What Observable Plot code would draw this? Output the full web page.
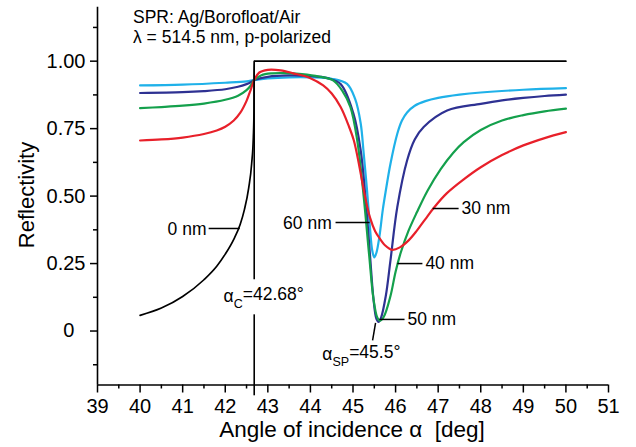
<!DOCTYPE html>
<html>
<head>
<meta charset="utf-8">
<script src="https://cdn.jsdelivr.net/npm/d3@7"></script>
<script src="https://cdn.jsdelivr.net/npm/@observablehq/plot@0.6"></script>
<style>
  html, body { margin: 0; padding: 0; background: #fff; }
  svg { display: block; }
</style>
</head>
<body>
<div id="chart"></div>
<script>
// ---- data ----
const header = ["SPR: Ag/Borofloat/Air", "λ = 514.5 nm, p-polarized"];
const xTitle = "Angle of incidence α  [deg]";
const yTitle = "Reflectivity";

const xTicks = [39, 40, 41, 42, 43, 44, 45, 46, 47, 48, 49, 50, 51];
const xMinor = [39.5, 40.5, 41.5, 42.5, 43.5, 44.5, 45.5, 46.5, 47.5, 48.5, 49.5, 50.5];
const yTicks = [0, 0.25, 0.5, 0.75, 1];
const yTickLabels = ["0\u2007", "0.25", "0.50", "0.75", "1.00"];
const yMinor = [-0.125, 0.125, 0.375, 0.625, 0.875, 1.125];

// 0 nm (bare prism)
const ang0  = [40, 40.5, 41, 41.5, 41.8, 42.0, 42.2, 42.35, 42.45, 42.55, 42.62, 42.66, 42.675, 42.68, 50];
const ref0  = [0.058, 0.085, 0.128, 0.19, 0.24, 0.285, 0.34, 0.395, 0.45, 0.53, 0.62, 0.72, 0.82, 1.0, 1.0];
// 30 nm
const ang30 = [40, 40.5, 41, 41.5, 41.8, 42, 42.2, 42.35, 42.5, 42.6, 42.68, 42.8, 43, 43.3, 43.6, 44, 44.3, 44.5, 44.71, 44.9, 45.02, 45.15, 45.28, 45.4, 45.52, 45.65, 45.75, 45.92, 46.1, 46.3, 46.5, 46.7, 46.9, 47.2, 47.6, 48, 48.5, 49, 49.5, 50];
const ref30 = [0.706, 0.71, 0.717, 0.73, 0.743, 0.757, 0.78, 0.808, 0.853, 0.895, 0.93, 0.958, 0.968, 0.966, 0.955, 0.937, 0.91, 0.88, 0.83, 0.76, 0.706, 0.61, 0.5, 0.42, 0.37, 0.338, 0.318, 0.301, 0.31, 0.335, 0.372, 0.415, 0.457, 0.51, 0.562, 0.607, 0.652, 0.688, 0.715, 0.737];
// 40 nm
const ang40 = [40, 40.5, 41, 41.5, 42, 42.3, 42.5, 42.6, 42.68, 42.85, 43.1, 43.4, 43.8, 44.2, 44.54, 44.75, 44.94, 45.1, 45.25, 45.38, 45.48, 45.57, 45.63, 45.72, 45.88, 46.0, 46.12, 46.3, 46.5, 46.75, 47.06, 47.35, 47.6, 48, 48.5, 49, 49.5, 50];
const ref40 = [0.826, 0.83, 0.835, 0.843, 0.857, 0.872, 0.893, 0.91, 0.93, 0.948, 0.955, 0.956, 0.952, 0.943, 0.928, 0.89, 0.83, 0.706, 0.5, 0.28, 0.12, 0.05, 0.038, 0.052, 0.13, 0.22, 0.29, 0.37, 0.44, 0.52, 0.6, 0.66, 0.7, 0.745, 0.78, 0.8, 0.814, 0.824];
// 50 nm
const ang50 = [40, 41, 41.5, 42, 42.3, 42.5, 42.6, 42.68, 43, 43.5, 44, 44.4, 44.71, 45.01, 45.18, 45.3, 45.4, 45.48, 45.55, 45.6, 45.66, 45.77, 45.88, 46.04, 46.27, 46.45, 46.66, 47.21, 48, 48.5, 49, 49.5, 50];
const ref50 = [0.882, 0.885, 0.889, 0.896, 0.905, 0.915, 0.922, 0.93, 0.942, 0.947, 0.945, 0.937, 0.915, 0.806, 0.67, 0.48, 0.28, 0.12, 0.045, 0.034, 0.05, 0.13, 0.262, 0.459, 0.632, 0.71, 0.756, 0.817, 0.842, 0.855, 0.864, 0.871, 0.876];
// 60 nm
const ang60 = [40, 41, 42, 42.5, 42.68, 43, 43.5, 44, 44.5, 44.86, 45.05, 45.18, 45.25, 45.33, 45.4, 45.45, 45.5, 45.55, 45.62, 45.7, 45.77, 45.88, 46.04, 46.15, 46.27, 46.45, 46.7, 47, 47.5, 48, 49, 50];
const ref60 = [0.91, 0.913, 0.92, 0.925, 0.93, 0.936, 0.94, 0.94, 0.935, 0.916, 0.86, 0.77, 0.66, 0.52, 0.38, 0.3, 0.273, 0.29, 0.35, 0.45, 0.52, 0.62, 0.731, 0.78, 0.81, 0.835, 0.852, 0.864, 0.876, 0.884, 0.894, 0.9];

// critical-angle marker (vertical line with a gap for its label)
const critAngle = 42.68;
const critY1 = [-0.24, 0.19];
const critY2 = [0.06, 1.0];

// annotation labels
const lblText   = ["0 nm", "60 nm", "30 nm", "40 nm", "50 nm", "α_{C}=42.68°", "α_{SP}=45.5°"];
const lblAngle  = [41.56, 44.5, 47.55, 46.7, 46.28, 41.96, 44.28];
const lblRefl   = [0.378, 0.40, 0.455, 0.25, 0.043, 0.128, -0.088];
const lblAnchor = ["end", "end", "start", "start", "start", "start", "start"];
// leader lines
const ldrX1 = [41.61, 44.59, 46.87, 46.04, 45.62, 45.53];
const ldrX2 = [42.34, 45.39, 47.48, 46.63, 46.21, 45.46];
const ldrY1 = [0.38, 0.402, 0.454, 0.25, 0.043, 0.03];
const ldrY2 = [0.38, 0.402, 0.454, 0.25, 0.043, -0.035];

const colors = {c0: "#000000", c30: "#e8202a", c40: "#14a04c", c50: "#2e3192", c60: "#1fb1e9"};

// ---- build tables ----
const toRows = (a, r) => a.map((x, i) => ({x, y: r[i]}));
const labels = lblText.map((t, i) => ({t, x: lblAngle[i], y: lblRefl[i], a: lblAnchor[i]}));
const leaders = ldrX1.map((x1, i) => ({x1, x2: ldrX2[i], y1: ldrY1[i], y2: ldrY2[i]}));
const crit = critY1.map((y1, i) => ({x: critAngle, y1, y2: critY2[i]}));

const lineOpts = {x: "x", y: "y", curve: "catmull-rom", strokeWidth: 2.2, strokeLinejoin: "round", strokeLinecap: "round"};
const FONT = "'Liberation Sans', Arial, Helvetica, sans-serif";

const plot = Plot.plot({
  width: 636,
  height: 447,
  marginLeft: 97,
  marginRight: 28,
  marginTop: 6.7,
  marginBottom: 62.5,
  style: {fontFamily: FONT, fontSize: "20px", background: "#fff", color: "#000"},
  x: {domain: [39, 51], axis: null},
  y: {domain: [-0.2, 1.2], axis: null},
  marks: [
    Plot.axisX({ticks: xTicks, tickSize: 8, tickPadding: 6, tickFormat: d => String(d), strokeWidth: 1.5, fontSize: 20, label: null}),
    Plot.axisX({ticks: xMinor, tickSize: 4, tickFormat: () => "", strokeWidth: 1.5, label: null}),
    Plot.axisY({ticks: yTicks, tickSize: 7, tickPadding: 5, tickFormat: d => yTickLabels[yTicks.indexOf(d)], strokeWidth: 1.5, fontSize: 20, label: null}),
    Plot.axisY({ticks: yMinor, tickSize: 4, tickFormat: () => "", strokeWidth: 1.5, label: null}),
    Plot.ruleY([-0.2], {strokeWidth: 1.6}),
    Plot.ruleX([39], {strokeWidth: 1.6}),
    Plot.ruleX(crit, {x: "x", y1: "y1", y2: "y2", strokeWidth: 1.6, stroke: "#000"}),
    Plot.line(toRows(ang60, ref60), {...lineOpts, stroke: colors.c60}),
    Plot.line(toRows(ang50, ref50), {...lineOpts, stroke: colors.c50}),
    Plot.line(toRows(ang40, ref40), {...lineOpts, stroke: colors.c40}),
    Plot.line(toRows(ang30, ref30), {...lineOpts, stroke: colors.c30}),
    Plot.line(toRows(ang0, ref0), {...lineOpts, curve: "monotone-x", stroke: colors.c0, strokeWidth: 1.7}),
    Plot.link(leaders, {x1: "x1", x2: "x2", y1: "y1", y2: "y2", stroke: "#000", strokeWidth: 1.5}),
    Plot.text(labels.filter(d => d.a === "end"), {x: "x", y: "y", text: "t", textAnchor: "end", fontSize: 17.5, fill: "#000"}),
    Plot.text(labels.filter(d => d.a === "start"), {x: "x", y: "y", text: "t", textAnchor: "start", fontSize: 17.5, fill: "#000"})
  ]
});

// subscripts written as _{...}
const NS = "http://www.w3.org/2000/svg";
plot.querySelectorAll("text").forEach(t => {
  const s = t.textContent;
  const m = s.match(/^(.*)_\{(.*?)\}(.*)$/);
  if (!m) return;
  t.textContent = "";
  const a = document.createElementNS(NS, "tspan"); a.textContent = m[1]; t.appendChild(a);
  const b = document.createElementNS(NS, "tspan"); b.textContent = m[2];
  b.setAttribute("font-size", "12.5"); b.setAttribute("dy", "0.45em"); t.appendChild(b);
  const c = document.createElementNS(NS, "tspan"); c.textContent = m[3];
  c.setAttribute("dy", "-0.45em"); t.appendChild(c);
});

// titles and header
const svg = d3.select(plot);
svg.append("text").attr("x", 352).attr("y", 437).attr("text-anchor", "middle")
  .attr("font-size", 22.5).attr("font-family", FONT).attr("fill", "#000").text(xTitle);
svg.append("text").attr("transform", "translate(34,195) rotate(-90)").attr("text-anchor", "middle")
  .attr("font-size", 22).attr("font-family", FONT).attr("fill", "#000").text(yTitle);
header.forEach((h, i) => {
  svg.append("text").attr("x", 133).attr("y", 23 + i * 19.5).attr("text-anchor", "start")
    .attr("font-size", 17.5).attr("font-family", FONT).attr("fill", "#000").text(h);
});

document.getElementById("chart").appendChild(plot);
</script>
</body>
</html>
